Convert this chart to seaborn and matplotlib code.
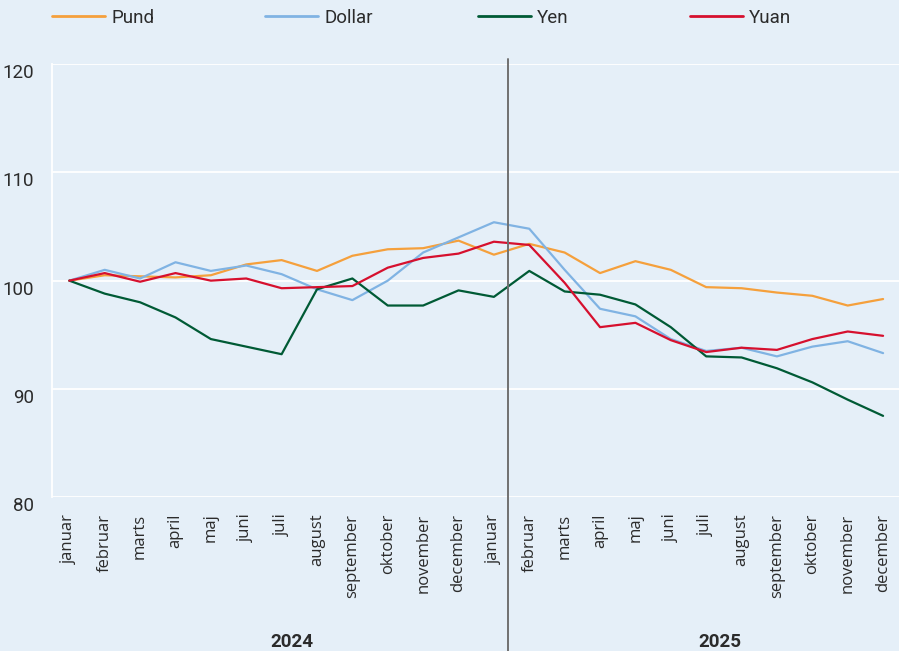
import matplotlib
matplotlib.use("Agg")
import matplotlib.pyplot as plt
import seaborn as sns
import pandas as pd
import numpy as np

months = ["januar", "februar", "marts", "april", "maj", "juni", "juli", "august",
          "september", "oktober", "november", "december",
          "januar", "februar", "marts", "april", "maj", "juni", "juli", "august",
          "september", "oktober", "november", "december"]

pund = [100.0, 100.5, 100.4, 100.3, 100.5, 101.5, 101.9, 100.9, 102.3, 102.9, 103.0, 103.7,
        102.4, 103.4, 102.6, 100.7, 101.8, 101.0, 99.4, 99.3, 98.9, 98.6, 97.7, 98.3]
dollar = [100.0, 101.0, 100.2, 101.7, 100.9, 101.4, 100.6, 99.2, 98.2, 100.0, 102.6, 104.0,
          105.4, 104.8, 101.0, 97.4, 96.7, 94.6, 93.5, 93.8, 93.0, 93.9, 94.4, 93.3]
yen = [100.0, 98.8, 98.0, 96.6, 94.6, 93.9, 93.2, 99.2, 100.2, 97.7, 97.7, 99.1,
       98.5, 100.9, 99.0, 98.7, 97.8, 95.7, 93.0, 92.9, 91.9, 90.6, 89.0, 87.5]
yuan = [100.0, 100.7, 99.9, 100.7, 100.0, 100.2, 99.3, 99.4, 99.5, 101.2, 102.1, 102.5,
        103.6, 103.3, 99.8, 95.7, 96.1, 94.5, 93.4, 93.8, 93.6, 94.6, 95.3, 94.9]

series_names = ["Pund", "Dollar", "Yen", "Yuan"]
colors = ["#f5a03c", "#80b3e3", "#005a35", "#d6102e"]
years = ["2024", "2025"]
yticks = [80, 90, 100, 110, 120]

bg = "#e5eff8"
narrow = ["Roboto", "DejaVu Sans"]
txtcol = "#2b2b2b"

rows = []
for name, vals in zip(series_names, [pund, dollar, yen, yuan]):
    for i, v in enumerate(vals):
        rows.append({"idx": i, "value": v, "valuta": name})
df = pd.DataFrame(rows)

sns.set_theme(style="white")
plt.rcParams["font.family"] = ["Open Sans", "DejaVu Sans"]

fig = plt.figure(figsize=(8.99, 6.51), dpi=100, facecolor=bg)
ax = fig.add_axes([52 / 899, 1 - 497 / 651, 1 - 52 / 899, (497 - 64.3) / 651])
ax.set_facecolor(bg)

sns.lineplot(data=df, x="idx", y="value", hue="valuta", palette=colors,
             hue_order=series_names, linewidth=1.6, ax=ax, legend=True)
handles, labels = ax.get_legend_handles_labels()
ax.get_legend().remove()

ax.set_xlim(-0.49, 23.45)
ax.set_ylim(80, 120)
ax.set_yticks(yticks)
ax.yaxis.grid(True, color="white", linewidth=1.3)
ax.xaxis.grid(False)
for s in ["top", "right", "bottom"]:
    ax.spines[s].set_visible(False)
ax.spines["left"].set_color("white")
ax.spines["left"].set_linewidth(1.3)

ax.set_xticks(range(len(months)))
ax.set_xticklabels(months, rotation=90, fontsize=12, color=txtcol)
ax.set_yticklabels([str(t) for t in yticks], fontsize=13.5, color=txtcol, family=narrow)
for lbl in ax.get_yticklabels():
    lbl.set_va("top")
ax.tick_params(axis="x", length=0, pad=12)
ax.tick_params(axis="y", length=0, pad=13)
ax.set_xlabel("")
ax.set_ylabel("")

# separator line between the years
ax.axvline(12.4, ymin=-0.356, ymax=1.012, color="#707070", linewidth=1.4, clip_on=False, zorder=5)

ax.text(6.3, -0.335, years[0], transform=ax.get_xaxis_transform(), ha="center", va="center",
        fontsize=13.5, fontweight="bold", color=txtcol, family=narrow)
ax.text(18.4, -0.335, years[1], transform=ax.get_xaxis_transform(), ha="center", va="center",
        fontsize=13.5, fontweight="bold", color=txtcol, family=narrow)

# legend entries spread across the top
starts = [52, 265, 478, 690]
for h, l, xs in zip(handles, labels, starts):
    h.set_linewidth(2)
    leg = fig.legend([h], [l], loc="center left", bbox_to_anchor=(xs / 899, 1 - 18 / 651),
                     frameon=False, borderpad=0, borderaxespad=0, handlelength=2.85,
                     handletextpad=0.3, prop={"family": narrow, "size": 13.5})
    for t in leg.get_texts():
        t.set_color(txtcol)

fig.savefig("out.png", dpi=100, facecolor=bg)
